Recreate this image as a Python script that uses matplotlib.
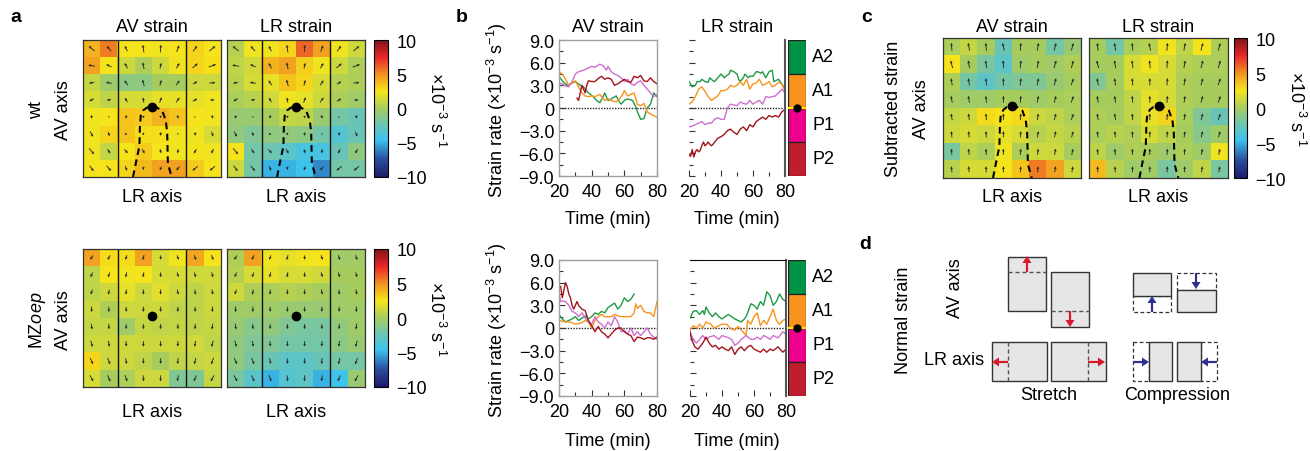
import numpy as np
import matplotlib
matplotlib.use('Agg')
import matplotlib.pyplot as plt
from matplotlib.colors import LinearSegmentedColormap
from matplotlib.patches import Rectangle

plt.rcParams['font.family'] = ['Liberation Sans', 'DejaVu Sans']
plt.rcParams['mathtext.fontset'] = 'custom'
plt.rcParams['mathtext.rm'] = 'Liberation Sans'
plt.rcParams['mathtext.it'] = 'Liberation Sans:italic'
plt.rcParams['mathtext.bf'] = 'Liberation Sans:bold'

W, H = 1310, 452
FS = 13

# ---------------- heatmap data (rows top->bottom, cols left->right), x1e-3 s^-1
WT_AV = [[4.0, 5.5, 2.5, 2.5, 2.3, 2.5, 3.0, 2.5],
         [4.5, 2.5, 1.2, 0.3, 1.2, 2.3, 3.0, 2.7],
         [1.0, -0.3, -1.0, -1.0, 0.0, 0.0, 1.2, 1.2],
         [1.5, 0.8, 1.5, 1.5, 2.0, 2.0, 2.0, 2.3],
         [2.3, 2.5, 3.5, 3.3, 4.0, 3.5, 2.5, 2.3],
         [2.3, 3.0, 3.5, 2.7, 2.7, 2.3, 2.3, 1.5],
         [2.3, 1.0, 2.5, 3.3, 2.5, 2.3, 2.5, 2.3],
         [2.5, 2.5, 3.0, 3.8, 4.5, 4.5, 3.3, 2.5]]
WT_LR = [[0.5, 2.3, 2.3, 3.0, 6.0, 4.5, 2.3, 1.3],
         [0.8, 1.3, 4.0, 4.5, 3.2, 2.3, 1.2, 0.3],
         [0.6, 1.5, 2.0, 3.5, 3.0, 1.5, 0.5, 0.3],
         [0.2, 0.6, 1.3, 2.3, 2.0, 1.2, 0.2, -0.3],
         [-0.5, -0.5, 0.0, 1.0, 0.8, -0.5, -2.0, -2.5],
         [-0.8, -1.5, -1.0, -0.8, -1.0, -2.0, -3.5, -2.5],
         [2.5, -2.0, -2.2, -3.2, -4.0, -4.0, -2.5, -1.0],
         [1.2, -2.0, -5.0, -5.0, -4.5, -6.0, -2.0, -2.0]]
MZ_AV = [[4.5, 2.8, 2.8, 4.5, 1.5, 2.3, 4.3, 2.5],
         [0.8, 2.5, 2.3, 2.5, 1.5, 1.5, 1.3, 1.3],
         [0.8, 1.2, 2.0, 1.2, 1.8, 1.2, 0.8, 1.2],
         [1.2, 0.3, 1.2, 1.2, 1.2, 0.8, 0.8, 1.2],
         [1.0, 1.0, -0.3, 1.0, 0.8, 1.0, 0.8, 1.0],
         [1.2, 1.2, 1.2, 1.2, 1.2, 1.2, 1.3, 0.8],
         [3.0, 1.2, 1.2, 0.8, 0.0, 0.8, 1.0, 1.2],
         [1.5, 0.0, 0.2, 1.2, 1.2, -1.5, -1.5, 1.0]]
MZ_LR = [[0.3, 4.5, 2.3, 2.0, 2.3, 2.5, -0.2, -0.2],
         [0.5, 1.5, 2.0, 1.5, 1.5, 1.3, 0.0, 0.0],
         [1.3, 0.3, 0.2, 0.5, 0.3, 0.0, -0.3, 0.0],
         [-0.3, -0.3, -0.3, -0.5, -0.5, -0.5, -0.3, -0.3],
         [-0.5, -1.3, -0.8, -1.5, -1.8, -1.8, -0.8, -0.3],
         [-0.8, -1.5, -1.5, -2.0, -2.0, -2.0, -1.0, -0.5],
         [-0.8, -1.8, -2.5, -3.0, -3.0, -2.5, -2.0, -2.0],
         [-1.8, -3.2, -5.0, -3.5, -3.0, -5.0, -4.5, -0.5]]
SUB_AV = [[0.2, 1.0, 0.0, -2.5, 0.0, 0.0, -2.0, -0.5],
          [2.5, 0.0, -1.8, -3.0, -0.3, 0.0, -0.3, 0.3],
          [0.3, -2.0, -3.0, -2.0, -1.5, -1.5, -0.5, 0.0],
          [0.0, -0.3, -0.3, 0.0, 0.0, -0.3, 0.0, 0.2],
          [1.0, 1.2, 2.8, 2.5, 2.8, 1.2, 0.8, 0.2],
          [1.2, 1.5, 1.2, 2.0, 1.5, 0.6, 1.0, 0.6],
          [-1.8, 0.8, 0.2, 2.3, 0.3, 1.2, 1.2, 0.0],
          [0.6, 1.5, 1.5, 2.5, 3.5, 5.5, 4.5, 1.2]]
SUB_LR = [[0.0, -2.0, 0.2, 0.5, 2.3, 0.8, 2.5, 0.3],
          [0.0, 0.0, 1.5, 2.3, 1.5, 0.5, 0.3, 0.2],
          [-1.5, 0.0, 1.5, 1.5, 1.5, 0.3, 0.0, 0.0],
          [0.0, 0.0, 0.8, 2.0, 1.5, 0.3, 0.0, 0.0],
          [0.3, 0.0, 0.8, 2.0, 3.0, 0.2, -1.5, -2.5],
          [0.2, 0.6, 0.3, 1.5, 0.8, 0.0, -1.2, -0.3],
          [0.8, -0.3, 0.3, 0.0, -0.3, 0.2, -0.3, 2.3],
          [3.8, 0.6, -0.3, -0.3, -1.8, -0.3, 0.8, -1.8]]

# displacement arrows: direction (deg, 0 = up, clockwise) and length (cell units)
WT_ANG = [[-50, -40, -25, -8, 5, 20, 35, 50],
          [-80, -65, -30, -12, 12, 30, 50, 70],
          [-100, -80, -35, -15, 15, 35, 60, 85],
          [-120, -100, -30, -10, 20, 35, 60, 85],
          [180, 170, 190, 180, 175, 160, 110, 175],
          [150, 160, 130, 170, 175, 180, 185, 160],
          [140, 145, 135, 150, 165, 190, 210, 210],
          [145, 140, 160, 175, 200, 220, 230, 230]]
WT_LEN = [[.45, .40, .35, .45, .45, .40, .40, .45],
          [.40, .35, .35, .40, .35, .35, .40, .45],
          [.30, .35, .35, .40, .35, .35, .30, .35],
          [.30, .25, .30, .30, .35, .35, .30, .25],
          [.20, .10, .20, .15, .15, .20, .10, .20],
          [.35, .25, .15, .15, .20, .10, .20, .30],
          [.45, .30, .30, .30, .25, .25, .30, .30],
          [.40, .40, .30, .20, .25, .30, .40, .40]]
MZ_ANG = [[215, 210, 195, 195, 180, 165, 160, 160],
          [205, 200, 190, 190, 180, 165, 165, 165],
          [200, 190, 185, 185, 180, 170, 175, 170],
          [180, 180, 180, 180, 180, 180, 180, 180],
          [170, 175, 180, 180, 180, 180, 185, 190],
          [165, 170, 175, 180, 180, 185, 190, 195],
          [155, 160, 170, 178, 180, 185, 195, 200],
          [150, 155, 160, 175, 180, 190, 205, 210]]
MZ_LEN = [[.30, .30, .28, .30, .25, .28, .30, .30],
          [.30, .30, .30, .30, .28, .28, .30, .30],
          [.30, .30, .30, .30, .30, .30, .30, .30],
          [.32, .32, .30, .30, .30, .30, .30, .32],
          [.35, .32, .30, .30, .30, .30, .32, .35],
          [.38, .35, .32, .32, .32, .32, .35, .38],
          [.40, .40, .35, .32, .32, .35, .38, .40],
          [.40, .40, .38, .35, .35, .35, .38, .40]]
SUB_ANG = [[-5, -10, -5, -12, 5, 10, 15, 15],
           [-15, -10, -8, -5, 5, 10, 15, 15],
           [-10, -8, -5, 0, 5, 10, 15, 20],
           [-10, -8, -5, 0, 5, 10, 15, 20],
           [-10, -8, -5, 0, 5, 10, 15, 20],
           [-5, -5, -3, 0, 5, 8, 12, 15],
           [-5, -5, -3, 0, 3, 5, 10, 12],
           [-5, -5, 0, 0, 3, 5, 8, 10]]
SUB_LEN = [[.45, .45, .45, .45, .45, .45, .45, .45],
           [.45, .45, .45, .45, .45, .45, .45, .45],
           [.42, .42, .42, .42, .42, .42, .42, .42],
           [.40, .40, .40, .40, .40, .40, .40, .40],
           [.38, .38, .38, .38, .38, .38, .38, .38],
           [.36, .36, .36, .36, .36, .36, .36, .36],
           [.36, .36, .36, .36, .36, .36, .36, .36],
           [.35, .35, .35, .35, .35, .35, .35, .35]]

# notochord outline & node position (cell units)
OUT_X = [2.9, 3.1, 3.27, 3.3, 3.35, 3.5, 3.7, 4.0, 4.3, 4.6, 4.8, 4.88, 4.9, 4.92, 5.14]
OUT_Y = [8.0, 7.0, 6.2, 5.0, 4.4, 4.1, 3.95, 3.9, 3.95, 4.15, 4.7, 5.4, 6.3, 7.2, 8.0]
NODE = (4.0, 3.9)

CB_TICKS = [-10, -5, 0, 5, 10]
CB_LABELS = ['\u221210', '\u22125', '0', '5', '10']

# ---------------- strain rate time series (panel b)
TOP_AV = {
 'A2': ([20,22,25,28,30,33,35,38,41,43,45,47,48,50,52,55,57,58,60,62,65,67,68,70,72,74,76,78,80],
        [4.2,3.6,3.0,3.3,3.5,3.0,2.8,2.0,1.5,1.0,0.7,1.5,2.0,1.0,1.2,1.6,0.8,0.5,1.0,1.2,1.0,0.2,-0.5,-1.5,-1.4,0.0,0.5,2.0,1.5]),
 'A1': ([20,22,24,26,28,30,32,34,36,38,40,42,45,48,50,52,55,57,59,60,62,64,66,68,70,72,74,76,78,80],
        [4.8,4.5,3.8,3.0,3.3,3.6,2.8,2.0,1.6,1.5,1.6,1.5,1.8,1.0,1.2,1.0,0.8,1.2,1.8,2.3,1.6,1.8,2.0,0.5,0.3,0.6,-0.5,-0.8,-1.0,-1.2]),
 'P1': ([20,22,24,26,28,30,32,35,38,40,42,45,47,49,50,52,54,56,58,60,62,64,66,68,70,72,74,76,78,80],
        [3.3,3.2,2.9,2.8,3.5,4.5,4.8,5.0,5.3,5.5,5.4,5.8,5.6,5.0,5.5,4.8,4.5,4.3,4.0,3.5,3.8,3.2,3.0,3.4,3.6,3.0,2.5,2.0,1.5,1.8]),
 'P2': ([31,32,33,34,35,36,37,38,40,42,44,46,48,50,52,54,56,58,60,62,64,66,68,70,72,74,76,78,80],
        [1.3,1.0,2.0,3.0,2.5,2.0,3.0,3.6,3.5,3.5,3.9,4.2,3.8,4.0,3.8,3.0,3.2,3.5,3.8,3.5,3.4,4.2,4.0,4.3,3.6,3.5,4.0,3.5,3.2]),
}
TOP_LR = {
 'A2': ([20,21,22,24,25,27,28,30,32,33,35,36,38,40,42,43,45,46,48,50,51,52,54,55,57,58,60,62,63,65,66,68,70,72,73,74,76,78,80],
        [3.5,3.2,2.8,3.0,3.5,3.5,3.8,3.5,3.4,4.0,3.6,3.5,4.0,4.5,4.0,4.2,4.5,5.0,4.8,4.5,3.8,3.5,4.0,4.5,4.0,4.2,4.2,4.8,4.8,4.6,4.8,4.0,4.8,5.0,3.5,3.6,3.8,3.2,2.5]),
 'A1': ([20,22,24,26,28,30,32,34,36,38,40,42,44,46,48,50,52,54,56,58,60,62,64,66,68,70,72,74,76,78,80],
        [0.5,0.8,1.5,2.5,2.8,2.2,1.5,1.0,1.3,1.6,2.3,2.3,2.5,3.0,2.8,3.0,3.5,3.0,3.8,2.5,3.2,3.3,3.8,3.0,3.2,3.5,2.8,3.0,3.4,3.2,2.2]),
 'P1': ([20,22,24,26,28,30,32,34,36,38,40,42,44,46,48,50,52,54,56,58,60,62,64,66,68,70,72,74,76,78,80],
        [-2.5,-2.4,-2.2,-2.0,-1.8,-2.2,-2.0,-2.0,-1.5,-1.3,-1.5,-1.5,0.0,0.5,0.4,0.3,0.8,0.6,0.5,1.0,0.5,0.8,1.0,0.5,1.5,1.4,1.5,1.6,2.0,2.5,2.0]),
 'P2': ([20,21,22,23,24,25,26,27,28,29,30,31,32,33,34,35,36,38,40,42,44,46,48,50,52,54,56,58,60,62,64,66,68,70,72,74,76,78,80],
        [-6.2,-6.4,-5.5,-6.5,-5.8,-5.5,-5.8,-5.6,-5.0,-4.5,-5.0,-4.8,-4.5,-4.8,-5.0,-4.8,-4.5,-4.0,-3.8,-3.5,-3.0,-2.8,-3.2,-3.5,-2.8,-2.5,-3.0,-2.2,-2.5,-1.8,-1.5,-1.2,-1.5,-1.0,-1.2,-1.0,-1.2,-0.5,-0.2]),
}
BOT_AV = {
 'A2': ([20,22,24,26,28,30,32,34,36,38,40,42,44,46,48,50,52,54,56,58,60,62,64,66],
        [1.8,1.2,0.8,1.0,1.2,1.5,1.0,1.3,1.6,1.2,1.5,2.0,1.8,2.2,2.0,2.7,3.0,3.3,2.5,3.0,4.0,3.5,3.8,4.5]),
 'A1': ([20,22,24,26,28,30,32,34,36,38,40,42,44,46,48,50,52,54,56,58,60,62,64,66,67,68,70,72,74,76,78,80],
        [1.0,0.9,0.8,0.8,0.7,0.5,0.6,0.7,1.0,0.8,0.0,1.0,1.5,1.8,1.5,1.5,1.5,1.8,1.6,1.5,1.5,1.5,1.5,2.0,3.2,2.6,3.0,2.2,2.0,2.0,1.5,3.5]),
 'P1': ([20,21,22,24,26,28,30,32,34,36,38,40,42,44,46,48,50,52,54,56,58,60,62,64,66,68,70,72,74,76,78,80],
        [4.5,3.5,3.6,3.5,3.0,2.2,2.0,1.5,2.0,1.3,0.8,0.5,1.5,0.8,0.5,0.0,0.8,0.3,1.5,0.8,-0.5,-0.3,-0.8,0.0,-1.0,-0.5,-1.0,-0.5,0.0,-0.8,-1.2,-1.5]),
 'P2': ([21,22,23,24,25,26,27,28,29,30,31,32,34,36,38,40,42,44,46,48,50,52,54,56,58,60,62,64,66,68,70,72,74,76,78,80],
        [5.5,4.0,5.0,6.0,5.5,4.5,4.0,3.0,2.5,3.0,3.5,3.0,2.5,2.3,1.0,0.3,-0.5,0.2,-0.5,-0.8,-1.3,-0.8,-0.3,0.0,0.0,-0.5,-0.8,-1.0,-1.8,-1.2,-1.3,-1.5,-1.3,-1.3,-1.5,-1.2]),
}
BOT_LR = {
 'A2': ([20,22,24,26,28,29,30,32,34,36,38,40,42,44,46,48,50,52,54,55,56,58,60,62,64,66,68,70,72,74,76,78,80],
        [1.3,2.2,2.3,1.8,2.3,1.8,2.8,2.0,1.5,2.0,1.5,1.2,1.5,1.8,1.5,1.2,1.0,0.8,1.2,1.5,2.0,3.2,3.0,2.5,3.5,3.0,4.8,4.3,3.0,3.5,4.5,3.8,3.5]),
 'A1': ([20,22,24,26,28,30,33,35,38,40,43,45,48,50,53,55,56,58,60,62,64,66,68,70,72,74,76,78,80],
        [-0.3,0.3,0.0,0.5,0.0,0.8,0.5,0.0,0.3,0.5,0.5,0.0,-0.3,0.2,-0.5,-1.0,1.0,0.5,1.5,2.0,0.3,1.0,0.5,1.5,2.5,1.0,0.5,1.0,1.2]),
 'P1': ([20,22,24,26,28,30,32,35,38,40,43,46,48,50,52,55,58,60,62,64,66,68,70,72,75,78,80],
        [-0.5,-1.5,-2.0,-1.5,-1.0,-1.5,-1.2,-1.0,-1.5,-1.0,-1.2,-1.5,-2.3,-2.0,-1.5,-1.0,-1.5,-1.5,-1.2,-1.5,-1.0,-1.2,-1.5,-1.0,-1.3,-0.5,-0.8]),
 'P2': ([20,21,23,25,28,30,32,34,36,38,40,42,44,46,48,50,52,54,56,58,60,62,64,66,68,70,72,75,78,80],
        [-0.5,-1.5,-2.5,-2.8,-2.0,-1.2,-2.0,-2.5,-2.3,-2.8,-2.5,-2.8,-3.0,-2.5,-3.5,-2.8,-2.5,-3.0,-2.5,-2.3,-2.8,-3.0,-3.2,-2.8,-3.2,-2.8,-3.0,-2.5,-3.2,-2.8]),
}
REGIONS = ['A2', 'A1', 'P1', 'P2']
LINE_COLORS = {'A2': '#1f9a45', 'A1': '#f7941d', 'P1': '#cf6fcf', 'P2': '#a3141c'}
STRIP_COLORS = {'A2': '#009245', 'A1': '#f7931e', 'P1': '#ec008c', 'P2': '#be1e2d'}
Y_TICKS = [-9, -6, -3, 0, 3, 6, 9]
Y_TICKLABELS = ['\u22129.0', '\u22126.0', '\u22123.0', '0', '3.0', '6.0', '9.0']
X_TICKS = [20, 40, 60, 80]

# ---------------- colormap (muted jet as printed)
cmap = LinearSegmentedColormap.from_list('pjet', [
    (0.0, '#1a1a66'), (0.13, '#2b4fa1'), (0.27, '#3cc3ef'), (0.38, '#6cc5b5'),
    (0.5, '#a6cc60'), (0.625, '#f6e61b'), (0.75, '#f29222'), (0.875, '#e8262a'),
    (1.0, '#7f1518')])

fig = plt.figure(figsize=(W / 100, H / 100), dpi=100)


def R(x0, y0, x1, y1):
    return [x0 / W, 1 - y1 / H, (x1 - x0) / W, (y1 - y0) / H]


def T(x, y, s, **kw):
    kw.setdefault('fontsize', FS)
    kw.setdefault('ha', 'center')
    kw.setdefault('va', 'center')
    fig.text(x / W, 1 - y / H, s, **kw)


def heat(box, data, ang, ln, vlines=False, outline=True):
    ax = fig.add_axes(R(*box))
    im = ax.imshow(np.array(data), cmap=cmap, vmin=-10, vmax=10, extent=[0, 8, 8, 0],
                   interpolation='nearest', aspect='auto')
    X, Y = np.meshgrid(np.arange(8) + 0.5, np.arange(8) + 0.5)
    a = np.deg2rad(np.array(ang, float))
    L = np.array(ln, float)
    U = L * np.sin(a)
    V = -L * np.cos(a)
    ax.quiver(X - U / 2, Y - V / 2, U, V, angles='xy', scale_units='xy', scale=1,
              width=0.0065, headwidth=3.2, headlength=3.2, headaxislength=2.9, color='#262626')
    if vlines:
        for xv in (2, 6):
            ax.axvline(xv, color='#111111', lw=1.0)
    if outline:
        ax.plot(OUT_X, OUT_Y, color='k', lw=1.5, ls=(0, (3.2, 2.2)))
    ax.plot([NODE[0]], [NODE[1]], 'o', color='k', ms=6)
    ax.set_xlim(0, 8)
    ax.set_ylim(8, 0)
    ax.set_xticks([])
    ax.set_yticks([])
    for s in ax.spines.values():
        s.set_color('#333333')
        s.set_linewidth(0.9)
    return im


def cbar(im, box, labx):
    cax = fig.add_axes(R(*box))
    cb = fig.colorbar(im, cax=cax, ticks=CB_TICKS)
    cb.ax.set_yticklabels(CB_LABELS)
    cb.ax.tick_params(length=0, pad=6, labelsize=FS)
    cb.outline.set_linewidth(0.8)
    T(labx, (box[1] + box[3]) / 2, '\u00d710$^{-3}$ s$^{-1}$', rotation=270)


# ================= panel a
T(16, 18, 'a', fontsize=14, fontweight='bold')
T(152, 27, 'AV strain')
T(296, 27, 'LR strain')
im = heat((83, 41, 221, 178), WT_AV, WT_ANG, WT_LEN, vlines=True)
heat((227, 41, 365, 178), WT_LR, WT_ANG, WT_LEN, vlines=True)
cbar(im, (374, 41, 388, 178), 436)
T(152, 198, 'LR axis')
T(296, 198, 'LR axis')
T(37, 110, 'wt', rotation=90)
T(63, 110, 'AV axis', rotation=90)

im = heat((83, 250, 221, 388), MZ_AV, MZ_ANG, MZ_LEN, vlines=True, outline=False)
heat((227, 250, 365, 388), MZ_LR, MZ_ANG, MZ_LEN, vlines=True, outline=False)
cbar(im, (374, 250, 388, 388), 436)
T(152, 413, 'LR axis')
T(296, 413, 'LR axis')
T(37, 320, 'MZ$\\it{oep}$', rotation=90)
T(63, 320, 'AV axis', rotation=90)


# ================= panel b
def lineplot(box, series, left):
    ax = fig.add_axes(R(*box))
    for k in REGIONS:
        t, v = series[k]
        ax.plot(t, v, color=LINE_COLORS[k], lw=1.0)
    ax.axhline(0, color='#222222', lw=1.0, ls=(0, (1, 1)), zorder=0)
    ax.set_xlim(20, 80)
    ax.set_ylim(-9, 9)
    ax.set_xticks(X_TICKS)
    ax.set_xticks([30, 50, 70], minor=True)
    ax.set_yticks(Y_TICKS)
    ax.set_yticks([-7.5, -4.5, -1.5, 1.5, 4.5, 7.5], minor=True)
    ax.tick_params(which='both', direction='in', labelsize=FS, color='#333333', width=0.8)
    ax.tick_params(which='major', length=4)
    ax.tick_params(which='minor', length=3)
    ax.tick_params(axis='x', pad=5)
    if left:
        ax.set_yticklabels(Y_TICKLABELS)
        for s in ax.spines.values():
            s.set_color('#a0a0a0')
            s.set_linewidth(1.0)
    else:
        ax.set_yticklabels([])
        ax.spines['left'].set_visible(False)
        ax.spines['bottom'].set_visible(False)
        ax.spines['top'].set_visible(False)
        ax.spines['right'].set_color('#555555')
        ax.spines['right'].set_linewidth(1.5)
    return ax


def strip(box, labx):
    ax = fig.add_axes(R(*box))
    n = len(REGIONS)
    for i, k in enumerate(REGIONS):
        y0 = n - 1 - i
        ax.add_patch(Rectangle((0, y0), 1, 1, facecolor=STRIP_COLORS[k], edgecolor='#222222', lw=0.9))
        T(labx, box[1] + (i + 0.5) * (box[3] - box[1]) / n, k, ha='left')
    ax.plot([0, 1], [2, 2], color='#ffe600', lw=1.5)
    ax.plot([0.5], [2], 'o', color='k', ms=5)
    ax.set_xlim(0, 1)
    ax.set_ylim(0, n)
    ax.axis('off')


T(462, 18, 'b', fontsize=14, fontweight='bold')
T(608, 27, 'AV strain')
T(737, 27, 'LR strain')
lineplot((559, 41, 657, 177), TOP_AV, True)
ax = lineplot((689, 41, 785, 177), TOP_LR, False)
strip((788, 41, 806, 177), 812)
T(608, 220, 'Time (min)')
T(737, 220, 'Time (min)')
T(497, 110, 'Strain rate (\u00d710$^{-3}$ s$^{-1}$)', rotation=90)

lineplot((559, 261, 657, 397), BOT_AV, True)
ax = lineplot((690, 261, 786, 397), BOT_LR, False)
ax.spines['top'].set_visible(True)
ax.spines['top'].set_color('#111111')
strip((788, 261, 806, 397), 812)
T(608, 442, 'Time (min)')
T(737, 442, 'Time (min)')
T(497, 330, 'Strain rate (\u00d710$^{-3}$ s$^{-1}$)', rotation=90)

# ================= panel c
T(867, 18, 'c', fontsize=14, fontweight='bold')
T(1012, 27, 'AV strain')
T(1158, 27, 'LR strain')
im = heat((943, 39, 1081, 179), SUB_AV, SUB_ANG, SUB_LEN)
heat((1089, 39, 1228, 179), SUB_LR, SUB_ANG, SUB_LEN)
cbar(im, (1234, 39, 1247, 179), 1296)
T(1012, 198, 'LR axis')
T(1158, 198, 'LR axis')
T(893, 109, 'Subtracted strain', rotation=90)
T(922, 109, 'AV axis', rotation=90)

# ================= panel d (schematic, pixel coordinates)
axd = fig.add_axes([0, 0, 1, 1], zorder=-1)
axd.set_xlim(0, W)
axd.set_ylim(H, 0)
axd.axis('off')
GRAY = '#e6e6e6'
EDGE = '#333333'
RED = '#d7192e'
BLUE = '#2e3192'


def box(x0, y0, x1, y1, fill=True):
    if fill:
        axd.add_patch(Rectangle((x0, y0), x1 - x0, y1 - y0, facecolor=GRAY, edgecolor=EDGE, lw=1.0))
    else:
        axd.add_patch(Rectangle((x0, y0), x1 - x0, y1 - y0, facecolor='white', edgecolor=EDGE,
                                lw=0.9, ls=(0, (3, 2))))


def dline(x0, y0, x1, y1):
    axd.plot([x0, x1], [y0, y1], color='#555555', lw=1.0, ls=(0, (3, 2)))


def arrow(x, y, dx, dy, c):
    axd.arrow(x, y, dx, dy, width=2.2, head_width=9, head_length=7, length_includes_head=True,
              color=c, lw=0)


T(865, 245, 'd', fontsize=14, fontweight='bold')
T(903, 320, 'Normal strain', rotation=90)
T(955, 288, 'AV axis', rotation=90)
T(954, 361, 'LR axis')
# stretch AV
box(1008, 258, 1046, 312)
dline(1008, 273, 1046, 273)
arrow(1027, 273, 0, -16, RED)
box(1051, 273, 1089, 328)
dline(1051, 312, 1089, 312)
arrow(1070, 312, 0, 16, RED)
# stretch LR
box(992, 343, 1047, 382)
dline(1008, 343, 1008, 382)
arrow(1008, 363, -16, 0, RED)
box(1051, 343, 1106, 382)
dline(1088, 343, 1088, 382)
arrow(1088, 363, 17, 0, RED)
# compression AV
box(1133, 297, 1171, 313, fill=False)
box(1133, 274, 1171, 297)
arrow(1152, 313, 0, -16, BLUE)
box(1177, 274, 1216, 291, fill=False)
box(1177, 291, 1216, 313)
arrow(1196, 274, 0, 16, BLUE)
# compression LR
box(1133, 343, 1149, 382, fill=False)
box(1149, 343, 1172, 382)
arrow(1133, 363, 16, 0, BLUE)
box(1201, 343, 1217, 382, fill=False)
box(1177, 343, 1201, 382)
arrow(1217, 363, -16, 0, BLUE)
T(1049, 396, 'Stretch')
T(1177, 396, 'Compression')

fig.savefig('out.png', dpi=100)
